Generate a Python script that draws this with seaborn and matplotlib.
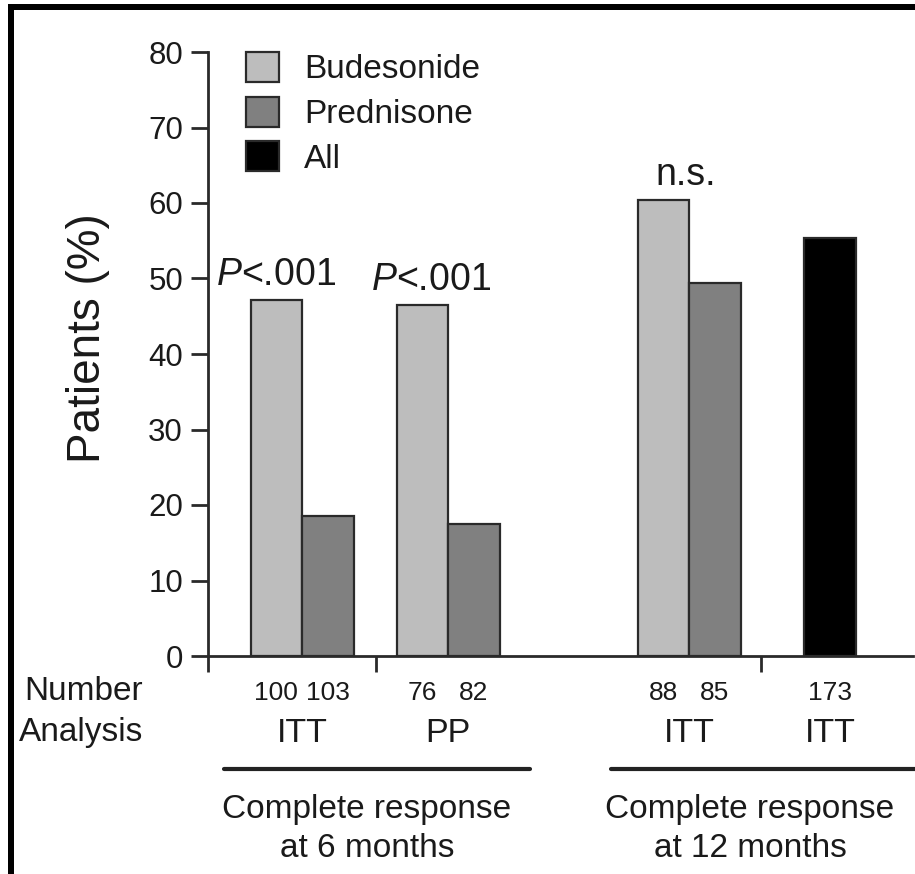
import matplotlib
matplotlib.use("Agg")
import matplotlib.pyplot as plt
import matplotlib.transforms as mtransforms
from matplotlib.patches import Patch, Rectangle
from matplotlib.lines import Line2D
import numpy as np
import pandas as pd
import seaborn as sns

# ---------------- data ----------------
groups = ["ITT 6 mo", "PP 6 mo", "ITT 12 mo", "All 12 mo"]
series = ["Budesonide", "Prednisone", "All"]
budesonide = [47.2, 46.5, 60.4, None]
prednisone = [18.5, 17.5, 49.4, None]
all_pts = [None, None, None, 55.3]
n_budesonide = ["100", "76", "88", None]
n_prednisone = ["103", "82", "85", None]
n_all = [None, None, None, "173"]
analysis = ["ITT", "PP", "ITT", "ITT"]
significance = ["$\\it{P}$<.001", "$\\it{P}$<.001", "n.s.", None]
y_ticks = [0, 10, 20, 30, 40, 50, 60, 70, 80]
section_labels = ["Complete response\nat 6 months", "Complete response\nat 12 months"]

# ---------------- style ----------------
sns.set_theme(style="white")
plt.rcParams["font.family"] = ["Liberation Sans", "DejaVu Sans"]
plt.rcParams["mathtext.fontset"] = "custom"
plt.rcParams["mathtext.rm"] = "Liberation Sans"
plt.rcParams["mathtext.it"] = "Liberation Sans:italic"

palette = {"Budesonide": "#bdbdbd", "Prednisone": "#808080", "All": "#000000"}
edge = "#2a2a2a"
txt = "#1a1a1a"

W, H = 915, 874
fig = plt.figure(figsize=(W / 100, H / 100), dpi=100)
ax_left, ax_right, ax_bot, ax_top = 208, 913, 656, 52
ax = fig.add_axes([ax_left / W, 1 - ax_bot / H, (ax_right - ax_left) / W, (ax_bot - ax_top) / H])

# layout (pixel-like x units measured from the y axis)
group_centers = [94, 240, 481, 622]
bar_w = 51.5
# where each significance label sits: (anchor, x offset in points)
sig_layout = [("bar", 0), ("bar", 6), ("group", -2), None]

rows = []
for gi, g in enumerate(groups):
    vals = [("Budesonide", budesonide[gi], n_budesonide[gi]),
            ("Prednisone", prednisone[gi], n_prednisone[gi]),
            ("All", all_pts[gi], n_all[gi])]
    present = [v for v in vals if v[1] is not None]
    k = len(present)
    for j, (s, v, n) in enumerate(present):
        xpos = group_centers[gi] + (j - (k - 1) / 2) * bar_w
        rows.append({"x": xpos, "series": s, "value": v, "n": n, "group": g})
df = pd.DataFrame(rows)

sns.barplot(data=df, x="x", y="value", hue="series", hue_order=series,
            palette=palette, native_scale=True, dodge=False, width=1.0,
            edgecolor=edge, linewidth=1.6, errorbar=None, legend=False, ax=ax)

ax.set_xlim(0, ax_right - ax_left)
ax.set_ylim(0, 80)
ax.set_yticks(y_ticks)
ax.set_yticklabels([str(t) for t in y_ticks], fontsize=22.5, color=txt)
ax.set_xticks([0, 168, 553])
ax.set_xticklabels([])
ax.set_xlabel("")
ax.set_ylabel("")
for s in ["top", "right"]:
    ax.spines[s].set_visible(False)
for s in ["left", "bottom"]:
    ax.spines[s].set_color(edge)
    ax.spines[s].set_linewidth(2)
ax.tick_params(axis="y", direction="out", length=12, width=2, color=edge, pad=6, left=True)
ax.tick_params(axis="x", direction="out", length=11.5, width=2, color=edge, bottom=True)

# significance labels
for gi, lab in enumerate(significance):
    if lab is None:
        continue
    sub = df[(df.group == groups[gi]) & (df.series == "Budesonide")]
    xb, vb = sub.x.iloc[0], sub.value.iloc[0]
    anchor, dx = sig_layout[gi]
    xa = xb if anchor == "bar" else group_centers[gi]
    ax.annotate(lab, (xa, vb), xytext=(dx, 5), textcoords="offset points",
                ha="center", va="bottom", fontsize=27, color=txt)

# legend
handles = [Patch(facecolor=palette[s], edgecolor=edge, linewidth=1.6, label=s) for s in series]
leg = ax.legend(handles=handles, loc="upper left", bbox_to_anchor=(0.035, 1.022),
                frameon=False, fontsize=24, handlelength=1.0, handleheight=1.0,
                handletextpad=0.75, labelspacing=0.34, borderaxespad=0)
for t in leg.get_texts():
    t.set_color(txt)

# text below the axis (x in data units, y in figure pixels from top)
def px_y(y):
    return 1 - y / H

trans = mtransforms.blended_transform_factory(ax.transData, fig.transFigure)
for _, r in df.iterrows():
    ax.text(r.x, px_y(693), r.n, transform=trans, ha="center", va="center",
            fontsize=19, color=txt)
for gi, a in enumerate(analysis):
    ax.text(group_centers[gi], px_y(733), a, transform=trans, ha="center", va="center",
            fontsize=24.5, color=txt)

fig.text(143 / W, px_y(691), "Number", ha="right", va="center", fontsize=24, color=txt)
fig.text(143 / W, px_y(733), "Analysis", ha="right", va="center", fontsize=24, color=txt)

# section lines & labels
sections = [(224 - ax_left, 530 - ax_left, 367 - ax_left), (611 - ax_left, 915 - ax_left, 750 - ax_left)]
for (x0, x1, xc), lab in zip(sections, section_labels):
    ln = Line2D([x0, x1], [px_y(769), px_y(769)], transform=trans, color="#222222",
                linewidth=3, clip_on=False)
    ax.add_line(ln)
    ax.text(xc, px_y(829), lab, transform=trans, ha="center", va="center",
            fontsize=24, color=txt, linespacing=1.3)

# y label
fig.text(88 / W, px_y(338), "Patients (%)", rotation=90, ha="center", va="center",
         fontsize=33, color=txt)

# frame border (black bands on top and left)
fig.patches.append(Rectangle((8 / W, px_y(10)), 1 - 8 / W, 6 / H, transform=fig.transFigure,
                             facecolor="black", edgecolor="none"))
fig.patches.append(Rectangle((8 / W, 0), 6 / W, px_y(4), transform=fig.transFigure,
                             facecolor="black", edgecolor="none"))

fig.savefig("out.png", dpi=100)
